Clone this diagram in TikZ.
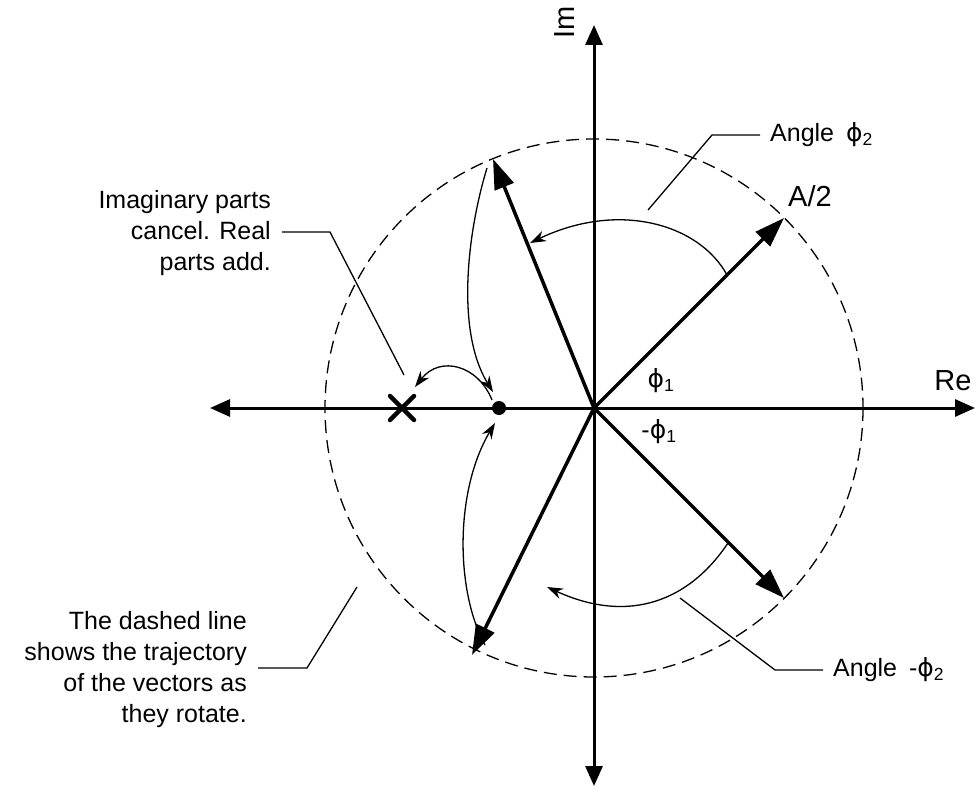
\documentclass[tikz,border=0pt]{standalone}
\usepackage{fontspec}
\setmainfont{Liberation Sans}
\newfontfamily\greekfont{DejaVu Sans}
\newcommand{\phig}{{\greekfont ϕ}}
\usetikzlibrary{arrows.meta}
\begin{document}
\begin{tikzpicture}[x=1pt, y=-1pt,
		axis/.style={line width=3pt, {Triangle[length=20pt,width=17pt]}-{Triangle[length=20pt,width=17pt]}},
		vec/.style={line width=3.5pt, -{Triangle[length=30pt,width=20pt]}},
		swing/.style={line width=1.3pt, -{Stealth[length=16pt,width=11pt]}},
		leader/.style={line width=1.3pt},
		lbl/.style={font=\fontsize{25}{31}\selectfont, inner sep=0pt},
		biglbl/.style={font=\fontsize{29}{34}\selectfont, inner sep=0pt}]
		\useasboundingbox (0,0) rectangle (976,789);
		
		% Axes
		\coordinate (O) at (594,408);
		\coordinate (reL) at (210,408);
		\coordinate (reR) at (975,408);
		\coordinate (imT) at (594,25);
		\coordinate (imB) at (594,786);
		\draw[axis] (reL) -- (reR);
		\draw[axis] (imB) -- (imT);
		
		% Trajectory
		\draw[line width=1.3pt, dash pattern=on 13pt off 7pt] (O) circle[radius=269];
		
		% Vectors
		\coordinate (vA) at (784,218);
		\coordinate (vUL) at (493,159);
		\coordinate (vLR) at (784,598);
		\coordinate (vLL) at (472,655);
		\draw[vec] (O) -- (vA);
		\draw[vec] (O) -- (vUL);
		\draw[vec] (O) -- (vLR);
		\draw[vec] (O) -- (vLL);
		
		% Sum and cross
		\coordinate (sum) at (499,408);
		\coordinate (cross) at (402,408);
		\fill (sum) circle[radius=7];
		\draw[line width=4.5pt, line cap=round] (cross) ++(-12,-12) -- ++(24,24);
		\draw[line width=4.5pt, line cap=round] (cross) ++(-12,12) -- ++(24,-24);
		
		% Rotation arcs
		\draw[swing] (727,275) .. controls (700,225) and (620,200) .. (530,243);
		\draw[swing] (728,543) .. controls (690,600) and (630,625) .. (547,587);
		\draw[swing] (487,168) .. controls (468,230) and (455,330) .. (493,392);
		\draw[swing] (485,645) .. controls (455,590) and (455,490) .. (495,423);
		\draw[swing] (492,400) .. controls (478,365) and (440,355) .. (415,387);
		
		% Labels
		\node[biglbl, rotate=90] (imlbl) at (565,22) {Im};
		\node[biglbl] (relbl) at (953,381) {Re};
		\node[biglbl] (alb) at (810,196) {A/2};
		\node[lbl] (p1) at (661,381) {\phig\textsubscript{1}};
		\node[lbl] (m1) at (659,432) {-\phig\textsubscript{1}};
		
		% Callouts
		\node[lbl, anchor=west] (ang2) at (770,135) {Angle\hspace{5pt} \phig\textsubscript{2}};
		\node[lbl, anchor=west] (angm2) at (833,670) {Angle\hspace{5pt} -\phig\textsubscript{2}};
		\node[lbl, anchor=east, align=right] (cancel) at (271,233) {Imaginary parts\\cancel. Real\\parts add.};
		\node[lbl, anchor=east, align=right] (traj) at (247,670) {The dashed line\\shows the trajectory\\of the vectors as\\they rotate.};
		\draw[leader] (648,210) -- (712,135) -- (ang2.west -| 760,0);
		\draw[leader] (680,598) -- (775,670) -- (angm2.west -| 823,0);
		\draw[leader] (404,375) -- (330,232) -- (282,232);
		\draw[leader] (357,587) -- (307,668) -- (258,668);
	\end{tikzpicture}
\end{document}
